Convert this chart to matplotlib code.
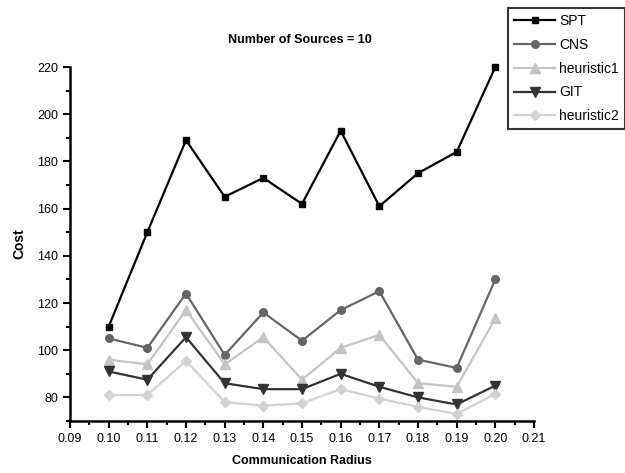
import matplotlib
matplotlib.use("Agg")
import matplotlib.pyplot as plt
from matplotlib.ticker import MultipleLocator, FormatStrFormatter

radius = [0.10, 0.11, 0.12, 0.13, 0.14, 0.15, 0.16, 0.17, 0.18, 0.19, 0.20]
spt = [110, 150, 189, 165, 173, 162, 193, 161, 175, 184, 220]
cns = [105, 101, 124, 98, 116, 104, 117, 125, 96, 92.5, 130]
heuristic1 = [96, 94, 117, 94, 105.5, 87.5, 101, 106.5, 86, 84.5, 113.5]
git = [91, 87.5, 105.5, 86, 83.5, 83.5, 90, 84.5, 80, 77, 85]
heuristic2 = [81, 81, 95.5, 78, 76.5, 77.5, 83.5, 79.5, 76, 73, 81.5]

series_names = ["SPT", "CNS", "heuristic1", "GIT", "heuristic2"]

plt.rcParams['font.family'] = ['Liberation Sans', 'DejaVu Sans']

fig = plt.figure(figsize=(6.25, 4.73), dpi=100)
ax = fig.add_axes([70/625, 1 - 421/473, (534-70)/625, (421-67)/473])

styles = [
    dict(color="#000000", marker="s", ms=4.5),
    dict(color="#666666", marker="o", ms=5.5),
    dict(color="#c4c4c4", marker="^", ms=6.5),
    dict(color="#333333", marker="v", ms=6.5),
    dict(color="#d2d2d2", marker="D", ms=5),
]
data = [spt, cns, heuristic1, git, heuristic2]
for name, vals, st in zip(series_names, data, styles):
    ax.plot(radius, vals, label=name, color=st["color"], marker=st["marker"],
            markersize=st["ms"], linewidth=1.6, clip_on=False, zorder=3)

ax.set_xlim(0.09, 0.21)
ax.set_ylim(70, 220)
ax.xaxis.set_major_locator(MultipleLocator(0.01))
ax.xaxis.set_minor_locator(MultipleLocator(0.005))
ax.yaxis.set_minor_locator(MultipleLocator(10))
ax.xaxis.set_major_formatter(FormatStrFormatter("%.2f"))
ax.set_yticks([80, 100, 120, 140, 160, 180, 200, 220])

for s in ["top", "right"]:
    ax.spines[s].set_visible(False)
for s in ["left", "bottom"]:
    ax.spines[s].set_linewidth(1.8)

ax.tick_params(axis="both", which="major", direction="out", length=5, width=1.5,
               labelsize=9)
ax.tick_params(axis="both", which="minor", direction="out", length=3, width=1.5)

ax.set_xlabel("Communication Radius", fontsize=9, labelpad=7, fontweight="bold")
ax.set_ylabel("Cost", fontsize=10, labelpad=8, fontweight="bold")
fig.text(300/625, 1 - 40/473, "Number of Sources = 10", ha="center", va="center",
         fontsize=9, fontweight="bold")

leg = fig.legend(loc="upper right", bbox_to_anchor=(1.0, 1 - 8/473),
                 fontsize=10, frameon=True, fancybox=False, handlelength=2.9,
                 borderpad=0.45, labelspacing=0.7, handletextpad=0.3,
                 borderaxespad=0.0)
leg.get_frame().set_edgecolor("black")
leg.get_frame().set_linewidth(1.5)

fig.savefig("out.png", dpi=100)
